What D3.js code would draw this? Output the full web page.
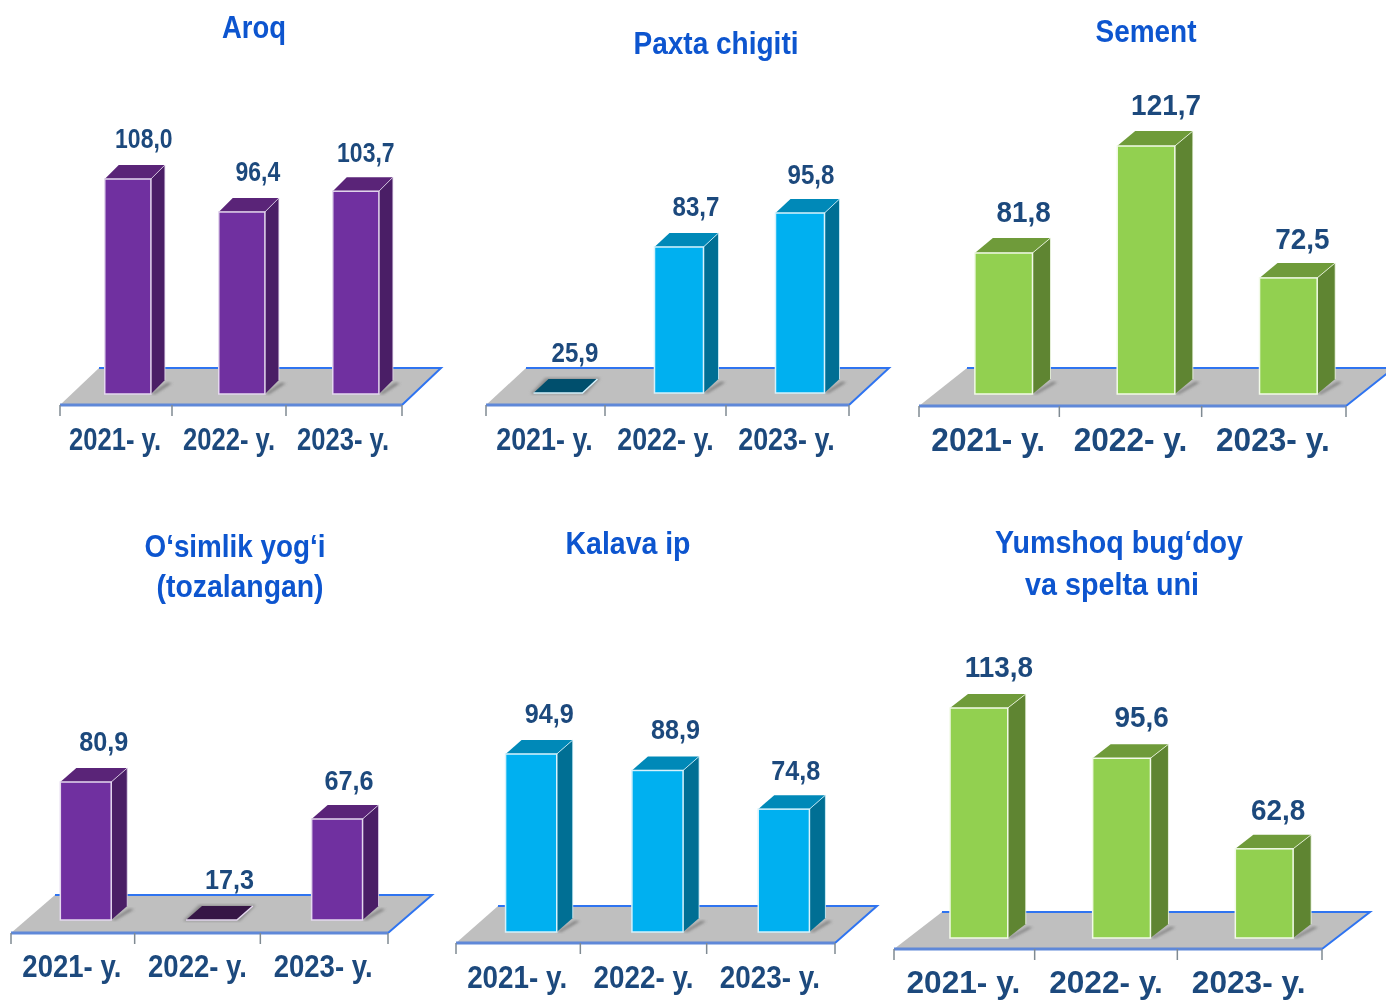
<!DOCTYPE html>
<html>
<head>
<meta charset="utf-8">
<style>
  html, body { margin: 0; background: #fff; }
  text { font-family: "Liberation Sans", Arial, sans-serif; font-weight: bold; }
</style>
<script src="https://cdn.jsdelivr.net/npm/d3@7"></script>
</head>
<body>
<div id="viz"></div>
<script>
const width = 1386;
const height = 1000;

// Data
const years = ['2021- y.', '2022- y.', '2023- y.'];
const aroq = [108.0, 96.4, 103.7];
const paxta = [25.9, 83.7, 95.8];
const sement = [81.8, 121.7, 72.5];
const osimlik = [80.9, 17.3, 67.6];
const kalava = [94.9, 88.9, 74.8];
const yumshoq = [113.8, 95.6, 62.8];

// The value axes don't start at zero, low values get squashed flat on the floor
const axisMins = [32.3, 31.7, 29.2, 31.3, 30, 30.5];

const purple = {front: '#7030a0', side: '#4a1e66', top: '#5a2478', flat: '#361646', edge: '#e4d8ee'};
const blue = {front: '#00b0f0', side: '#006f94', top: '#0089b8', flat: '#004f6d', edge: '#d6f2fc'};
const green = {front: '#92d050', side: '#5f8532', top: '#6f9b3a', flat: '#4a6a28', edge: '#f2fae8'};

const titleColor = '#0b55cf';
const labelColor = '#1f4a7d';

// Labels over the last bar sit a little off the others in the source
const labelNudgeX = [0, 0, -6];
const labelNudgeY = [0, 0, 2];

const panels = [
  {values: aroq, colors: purple, left: 60, right: 402, axisY: 405, backY: 368, depth: 39, base: 394, top: 179,
    sideW: 14, sideH: 14, valueSize: 28, valueFit: 0.82, yearSize: 32, yearFit: 0.8, yearY: 45,
    titles: [{text: 'Aroq', x: 254, y: 38, w: 64}]},
  {values: paxta, colors: blue, left: 486, right: 849, axisY: 405, backY: 368, depth: 40, base: 393, top: 213,
    sideW: 15, sideH: 14, valueSize: 28, valueFit: 0.86, yearSize: 32, yearFit: 0.84, yearY: 45,
    titles: [{text: 'Paxta chigiti', x: 716, y: 54, w: 165}]},
  {values: sement, colors: green, left: 919, right: 1346, axisY: 406, backY: 368, depth: 48, base: 394, top: 146,
    sideW: 18, sideH: 15, valueSize: 30, valueFit: 0.93, yearSize: 34, yearFit: 0.93, yearY: 45,
    titles: [{text: 'Sement', x: 1146, y: 42, w: 101}]},
  {values: osimlik, colors: purple, left: 11, right: 388, axisY: 933, backY: 895, depth: 44, base: 920, top: 782,
    sideW: 16, sideH: 14, valueSize: 28, valueFit: 0.9, yearSize: 32, yearFit: 0.86, yearY: 44,
    titles: [{text: 'O‘simlik yog‘i', x: 235, y: 557, w: 181}, {text: '(tozalangan)', x: 240, y: 597, w: 167}]},
  {values: kalava, colors: blue, left: 456, right: 835, axisY: 943, backY: 906, depth: 42, base: 932, top: 754,
    sideW: 16, sideH: 14, valueSize: 28, valueFit: 0.9, yearSize: 32, yearFit: 0.87, yearY: 45,
    titles: [{text: 'Kalava ip', x: 628, y: 554, w: 125}]},
  {values: yumshoq, colors: green, left: 894, right: 1322, axisY: 949, backY: 912, depth: 48, base: 938, top: 708,
    sideW: 18, sideH: 14, valueSize: 30, valueFit: 0.93, yearSize: 31, yearFit: 1.02, yearY: 44,
    titles: [{text: 'Yumshoq bug‘doy', x: 1119, y: 553, w: 248}, {text: 'va spelta uni', x: 1112, y: 595, w: 174}]}
];

const svg = d3.select('#viz')
  .append('svg')
  .attr('width', width)
  .attr('height', height)
  .attr('viewBox', `0 0 ${width} ${height}`);

const defs = svg.append('defs');
defs.append('filter').attr('id', 'soft')
  .append('feGaussianBlur').attr('stdDeviation', 1.5);
defs.append('filter').attr('id', 'textSoft')
  .append('feGaussianBlur').attr('stdDeviation', 0.35);

const polygon = (g, points, fill) => g.append('polygon')
  .attr('points', points.map(p => p.join(',')).join(' '))
  .attr('fill', fill);

const drawPanel = (panel, i) => {
  const g = svg.append('g').attr('class', 'panel');

  const x = d3.scaleBand()
    .domain(years)
    .range([panel.left, panel.right]);
  const y = d3.scaleLinear()
    .domain([axisMins[i], d3.max(panel.values)])
    .range([panel.base, panel.top])
    .clamp(true);

  const barWidth = x.bandwidth() * 0.405;
  const barShift = x.bandwidth() * 0.095;
  const barX = year => x(year) + (x.bandwidth() - barWidth) / 2 + barShift;

  // Floor
  const dx = panel.depth;
  polygon(g, [
    [panel.left, panel.axisY],
    [panel.left + dx, panel.backY],
    [panel.right + dx, panel.backY],
    [panel.right, panel.axisY]
  ], '#bfbfbf');
  g.append('path')
    .attr('d', `M${panel.left + dx},${panel.backY}H${panel.right + dx}L${panel.right},${panel.axisY}`)
    .attr('fill', 'none')
    .attr('stroke', '#2f74f0')
    .attr('stroke-width', 2);
  g.append('line')
    .attr('x1', panel.left).attr('x2', panel.right)
    .attr('y1', panel.axisY).attr('y2', panel.axisY)
    .attr('stroke', '#5f88d8')
    .attr('stroke-width', 3);

  // Ticks sit on the band edges, so they are drawn apart from the axis labels
  g.selectAll('.tick-mark')
    .data([panel.left, x(years[1]) - 2, x(years[2]) - 2, panel.right])
    .join('line')
    .attr('class', 'tick-mark')
    .attr('x1', d => d).attr('x2', d => d)
    .attr('y1', panel.axisY).attr('y2', panel.axisY + 11)
    .attr('stroke', '#7f8a92')
    .attr('stroke-width', 1.5);

  // Bars
  panel.values.forEach((value, k) => {
    const year = years[k];
    const x0 = barX(year);
    const x1 = x0 + barWidth;
    const yTop = y(value);
    const sw = panel.sideW;
    const sh = panel.sideH;
    const bar = g.append('g').attr('class', 'bar');

    const flat = yTop >= panel.base;

    if (flat) {
      polygon(bar, [
        [x0 - 3, panel.base + 1], [x0 + sw - 3, panel.base - sh - 1],
        [x1 + sw + 3, panel.base - sh - 1], [x1 + 3, panel.base + 1]
      ], '#8c8c8c').attr('filter', 'url(#soft)');
      polygon(bar, [[x0, yTop], [x0 + sw, yTop - sh], [x1 + sw, yTop - sh], [x1, yTop]], panel.colors.flat);
      bar.append('path')
        .attr('d', `M${x0},${yTop}H${x1}L${x1 + sw},${yTop - sh}`)
        .attr('fill', 'none')
        .attr('stroke', panel.colors.edge)
        .attr('stroke-width', 1.5);
    } else {
      // Shadow at the foot of the side face
      polygon(bar, [
        [x1, panel.base], [x1 + sw + 2, panel.base - sh + 3],
        [x1 + sw + 7, panel.base - sh + 3], [x1 + 4, panel.base]
      ], '#666').attr('filter', 'url(#soft)').attr('opacity', 0.8);
      polygon(bar, [[x1, yTop], [x1 + sw, yTop - sh], [x1 + sw, panel.base - sh], [x1, panel.base]], panel.colors.side);
      polygon(bar, [[x0, yTop], [x0 + sw, yTop - sh], [x1 + sw, yTop - sh], [x1, yTop]], panel.colors.top);
      bar.append('rect')
        .attr('x', x0)
        .attr('y', yTop)
        .attr('width', barWidth)
        .attr('height', panel.base - yTop)
        .attr('fill', panel.colors.front)
        .attr('stroke', panel.colors.edge)
        .attr('stroke-width', 1.5);
      bar.append('path')
        .attr('d', `M${x1},${yTop}L${x1 + sw},${yTop - sh}V${panel.base - sh}`)
        .attr('fill', 'none')
        .attr('stroke', panel.colors.edge)
        .attr('stroke-opacity', 0.8)
        .attr('stroke-width', 1);
    }
  });

  // Value labels
  g.selectAll('.value')
    .data(panel.values)
    .join('text')
    .attr('class', 'value')
    .attr('x', (d, k) => barX(years[k]) + barWidth / 2 + panel.sideW + 2 + labelNudgeX[k])
    .attr('y', (d, k) => y(d) - 31 + labelNudgeY[k])
    .attr('text-anchor', 'middle')
    .attr('font-size', panel.valueSize)
    .attr('fill', labelColor)
    .attr('filter', 'url(#textSoft)')
    .text(d => d.toFixed(1).replace('.', ','))
    .attr('lengthAdjust', 'spacingAndGlyphs')
    .attr('textLength', function() { return this.getComputedTextLength() * panel.valueFit; });

  // Year labels
  const axis = g.append('g')
    .attr('transform', `translate(-2,${panel.axisY})`)
    .call(d3.axisBottom(x).tickSize(0));
  axis.select('.domain').remove();
  axis.attr('font-family', null);
  axis.selectAll('text')
    .attr('y', panel.yearY)
    .attr('dy', 0)
    .attr('font-size', panel.yearSize)
    .attr('fill', labelColor)
    .attr('filter', 'url(#textSoft)')
    .attr('lengthAdjust', 'spacingAndGlyphs')
    .attr('textLength', function() { return this.getComputedTextLength() * panel.yearFit; });

  // Titles
  g.selectAll('.title')
    .data(panel.titles)
    .join('text')
    .attr('class', 'title')
    .attr('x', d => d.x)
    .attr('y', d => d.y)
    .attr('text-anchor', 'middle')
    .attr('font-size', 32)
    .attr('fill', titleColor)
    .attr('filter', 'url(#textSoft)')
    .attr('textLength', d => d.w)
    .attr('lengthAdjust', 'spacingAndGlyphs')
    .text(d => d.text);
};

panels.forEach(drawPanel);
</script>
</body>
</html>
